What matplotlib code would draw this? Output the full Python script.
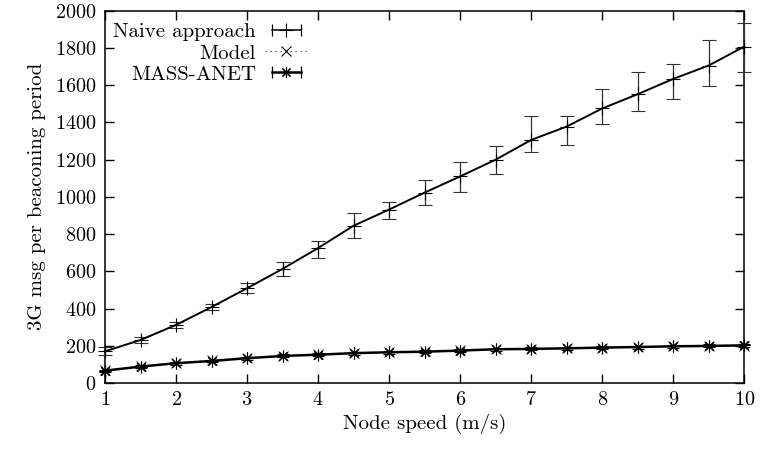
import matplotlib
matplotlib.use('Agg')

import matplotlib.pyplot as plt
from matplotlib.lines import Line2D
from matplotlib.legend import Legend
from matplotlib.legend_handler import HandlerLine2D

# === data ===
speed = [1, 1.5, 2, 2.5, 3, 3.5, 4, 4.5, 5, 5.5, 6, 6.5, 7, 7.5, 8, 8.5, 9, 9.5, 10]

naive = [170, 231, 312, 408, 509, 613, 725, 845, 932, 1023, 1110, 1200,
         1306, 1378, 1475, 1552, 1634, 1706, 1808]
naive_lo = [150, 215, 295, 392, 482, 575, 674, 780, 882, 957, 1027, 1122,
            1242, 1278, 1389, 1461, 1528, 1595, 1670]
naive_hi = [195, 245, 330, 425, 536, 652, 765, 916, 975, 1090, 1190, 1274,
            1434, 1432, 1582, 1672, 1713, 1842, 1934]

model = [68, 90, 108, 121, 135, 146, 154, 161, 166, 170, 175, 180,
         184, 187, 190, 193, 196, 198, 201]

mass = [66, 88, 106, 118, 133, 145, 152, 160, 165, 168, 174, 181,
        183, 186, 190, 193, 197, 199, 202]
mass_err = [6, 6, 7, 7, 7, 8, 8, 8, 8, 8, 8, 8, 8, 8, 8, 8, 8, 8, 8]

X_LABEL = 'Node speed (m/s)'
Y_LABEL = '3G msg per beaconing period'
LABELS = ['Naive approach', 'Model', 'MASS-ANET']
# ===================================

plt.rcParams['font.family'] = ['cmr10', 'DejaVu Serif']
plt.rcParams['axes.formatter.use_mathtext'] = True
plt.rcParams['font.size'] = 15

fig = plt.figure(figsize=(7.61, 4.5), dpi=100)
ax = fig.add_axes([0.138, 0.149, 0.840, 0.827])

star = (8, 2, 0)

# Naive approach
err_naive = [[n - lo for n, lo in zip(naive, naive_lo)],
             [hi - n for n, hi in zip(naive, naive_hi)]]
ax.errorbar(speed, naive, yerr=err_naive, color='black', lw=1.4,
            marker='+', ms=10, mew=0.8, ecolor='#333333', elinewidth=0.9,
            capsize=5, capthick=0.9, clip_on=False, zorder=3)

# Model
ax.plot(speed, model, color='#444444', lw=0.9, ls=(0, (1, 3)),
        marker='x', ms=7.5, mew=0.8, clip_on=False, zorder=4)

# MASS-ANET
ax.errorbar(speed, mass, yerr=mass_err, color='black', lw=1.8,
            marker=star, ms=8.5, mew=0.8, ecolor='black', elinewidth=0.9,
            capsize=4, capthick=0.9, clip_on=False, zorder=5)

ax.set_xlim(1, 10)
ax.set_ylim(0, 2000)
ax.set_xticks(range(1, 11))
ax.set_yticks(range(0, 2001, 200))
ax.tick_params(direction='in', top=True, right=True, length=6.5, width=1.0,
               pad=6, labelsize=14.5)
for spine in ax.spines.values():
    spine.set_linewidth(1.1)

ax.set_xlabel(X_LABEL, labelpad=3)
ax.set_ylabel(Y_LABEL, labelpad=7)

# gnuplot-like key: right-aligned text, sample to its right
cap_naive = Line2D([], [], color='black', lw=1.1, marker='|', ms=9, mew=0.9)
mk_naive = Line2D([], [], color='black', lw=0, marker='+', ms=10, mew=0.8)
line_model = Line2D([], [], color='#444444', lw=0.9, ls=(0, (1, 3)))
mk_model = Line2D([], [], color='black', lw=0, marker='x', ms=7, mew=0.8)
cap_mass = Line2D([], [], color='black', lw=1.8, marker='|', ms=9, mew=0.9)
mk_mass = Line2D([], [], color='black', lw=0, marker=star, ms=8, mew=0.8)

entries = [((cap_naive, mk_naive), True), ((line_model, mk_model), False),
           ((cap_mass, mk_mass), True)]
rows_y = [0.943, 0.886, 0.829]

for (handles, capped), label, yy in zip(entries, LABELS, rows_y):
    hmap = {handles[0]: HandlerLine2D(numpoints=2 if capped else 1),
            handles[1]: HandlerLine2D(numpoints=1)}
    leg = Legend(ax, [handles], [label], handler_map=hmap,
                 loc='center right', bbox_to_anchor=(0.316, yy),
                 frameon=False, markerfirst=False, borderpad=0,
                 borderaxespad=0, handlelength=2.0, handletextpad=0.45,
                 fontsize=15)
    ax.add_artist(leg)

fig.savefig('out.png', dpi=100)
